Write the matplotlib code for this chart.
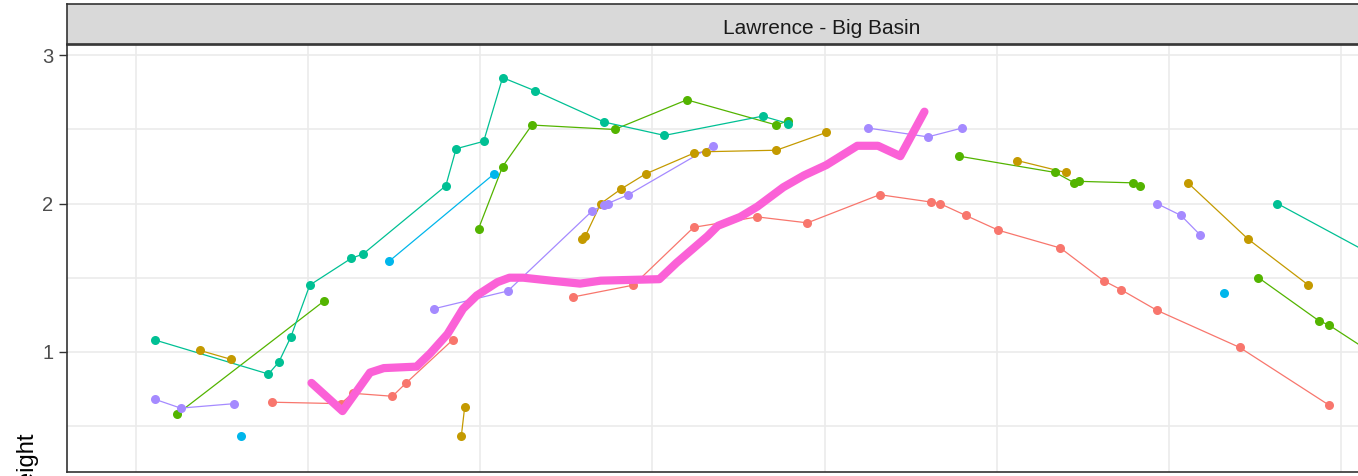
"""Height tracks for the Lawrence - Big Basin site: one coloured track per tree plus the site trend line."""

import matplotlib

matplotlib.use("Agg")  # no display needed
import matplotlib.pyplot as plt
from matplotlib.ticker import MultipleLocator

# ggplot default hue palette
SALMON = "#F8766D"
GOLD = "#C49A00"
GREEN = "#53B400"
TEAL = "#00C094"
BLUE = "#00B6EB"
PURPLE = "#A58AFF"
PINK = "#FB61D7"

FACET_LABEL = "Lawrence - Big Basin"
Y_LABEL = "Height"
Y_TICKS = [1, 2, 3]

# each colour holds one or more separate tracks (x list, y list)
salmon_x = [[0.79, 1.19, 1.26, 1.49, 1.57, 1.84],
            [2.54, 2.89, 3.24, 3.61, 3.90, 4.32, 4.62, 4.67, 4.82, 5.01,
             5.37, 5.62, 5.72, 5.93, 6.41, 6.93]]
salmon_y = [[0.66, 0.65, 0.72, 0.70, 0.79, 1.08],
            [1.37, 1.45, 1.84, 1.91, 1.87, 2.06, 2.01, 2.00, 1.92, 1.82,
             1.70, 1.48, 1.42, 1.28, 1.03, 0.64]]

gold_x = [[0.37, 0.55],
          [1.89, 1.91],
          [2.59, 2.61, 2.70, 2.82, 2.96, 3.24, 3.31, 3.72, 4.01],
          [5.12, 5.40],
          [6.11, 6.46, 6.81]]
gold_y = [[1.01, 0.95],
          [0.43, 0.63],
          [1.76, 1.78, 2.00, 2.10, 2.20, 2.34, 2.35, 2.36, 2.48],
          [2.29, 2.21],
          [2.14, 1.76, 1.45]]

green_x = [[0.24, 1.09],
           [1.99, 2.13, 2.30, 2.78, 3.20, 3.72, 3.79],
           [4.78, 5.34, 5.45, 5.48, 5.79, 5.83],
           [6.52, 6.87, 6.93, 7.30]]
green_y = [[0.58, 1.34],
           [1.83, 2.25, 2.53, 2.50, 2.70, 2.53, 2.56],
           [2.32, 2.21, 2.14, 2.15, 2.14, 2.12],
           [1.50, 1.21, 1.18, 0.90]]

teal_x = [[0.11, 0.77, 0.83, 0.90, 1.01, 1.25, 1.32, 1.80, 1.86, 2.02,
           2.13, 2.32, 2.72, 3.07, 3.64, 3.79],
          [6.63, 7.30]]
teal_y = [[1.08, 0.85, 0.93, 1.10, 1.45, 1.63, 1.66, 2.12, 2.37, 2.42,
           2.85, 2.76, 2.55, 2.46, 2.59, 2.54],
          [2.00, 1.58]]

blue_x = [[0.61], [1.47, 2.08], [6.32]]
blue_y = [[0.43], [1.61, 2.20], [1.40]]

purple_x = [[0.11, 0.26, 0.57],
            [1.73, 2.16, 2.65, 2.72, 2.74, 2.86, 3.35],
            [4.25, 4.60, 4.80],
            [5.93, 6.07, 6.18]]
purple_y = [[0.68, 0.62, 0.65],
            [1.29, 1.41, 1.95, 1.99, 2.00, 2.06, 2.39],
            [2.51, 2.45, 2.51],
            [2.00, 1.92, 1.79]]

# site trend (thick line, no points)
trend_x = [1.02, 1.20, 1.36, 1.44, 1.63, 1.71, 1.81, 1.90, 1.98, 2.10,
           2.17, 2.25, 2.41, 2.58, 2.70, 3.04, 3.14, 3.22, 3.32, 3.38,
           3.51, 3.61, 3.76, 3.88, 4.01, 4.19, 4.31, 4.44, 4.58]
trend_y = [0.79, 0.60, 0.86, 0.89, 0.90, 0.99, 1.12, 1.29, 1.38, 1.47,
           1.50, 1.50, 1.48, 1.46, 1.48, 1.49, 1.60, 1.68, 1.78, 1.85,
           1.91, 1.98, 2.11, 2.19, 2.26, 2.39, 2.39, 2.32, 2.62]

TRACKS = [
    (salmon_x, salmon_y, SALMON),
    (gold_x, gold_y, GOLD),
    (green_x, green_y, GREEN),
    (teal_x, teal_y, TEAL),
    (blue_x, blue_y, BLUE),
    (purple_x, purple_y, PURPLE),
]

W_PX, H_PX = 1358, 476
PANEL_LEFT, PANEL_RIGHT = 67, 1577  # the panel runs past the right edge of the figure
PANEL_TOP, PANEL_BOTTOM = 45, 472
STRIP_TOP = 4

plt.rcParams["font.family"] = ["Liberation Sans", "DejaVu Sans"]

fig = plt.figure(figsize=(W_PX / 100, H_PX / 100), dpi=100)
fig.patch.set_facecolor("white")

ax_w = (PANEL_RIGHT - PANEL_LEFT) / W_PX
ax = fig.add_axes([PANEL_LEFT / W_PX, (H_PX - PANEL_BOTTOM) / H_PX,
                   ax_w, (PANEL_BOTTOM - PANEL_TOP) / H_PX])
strip = fig.add_axes([PANEL_LEFT / W_PX, (H_PX - PANEL_TOP + 1) / H_PX,
                      ax_w, (PANEL_TOP - 1 - STRIP_TOP) / H_PX])

# lines first, then all points on top, like geom_line + geom_point
for xs, ys, color in TRACKS:
    for tx, ty in zip(xs, ys):
        ax.plot(tx, ty, color=color, lw=0.9, zorder=2)
for xs, ys, color in TRACKS:
    for tx, ty in zip(xs, ys):
        ax.plot(tx, ty, ls="none", marker="o", ms=6.5, color=color,
                markeredgewidth=0, zorder=3)

ax.plot(trend_x, trend_y, color=PINK, lw=5.9, solid_joinstyle="round",
        solid_capstyle="round", zorder=4)

ax.set_xlim(-0.40, 8.37)
ax.set_ylim(0.189, 3.07)
ax.xaxis.set_major_locator(MultipleLocator(1))
ax.set_yticks(Y_TICKS)
ax.yaxis.set_minor_locator(MultipleLocator(0.5))
ax.grid(True, which="both", color="#EBEBEB", lw=1.2, zorder=0)
ax.set_axisbelow(True)
ax.tick_params(axis="x", length=0, labelbottom=False)
ax.tick_params(axis="y", which="major", length=5.8, width=1.0, color="#333333",
               labelsize=14.5, labelcolor="#4D4D4D", pad=4)
ax.tick_params(axis="y", which="minor", length=0)
for sp in ax.spines.values():
    sp.set_color("#333333")
    sp.set_linewidth(1.2)
    sp.set_zorder(5)

strip.set_facecolor("#D9D9D9")
strip.set_xticks([])
strip.set_yticks([])
for sp in strip.spines.values():
    sp.set_color("#333333")
    sp.set_linewidth(1.2)
strip.text(0.5, 0.25, FACET_LABEL, transform=strip.transAxes, ha="center",
           va="baseline", fontsize=15, color="#1A1A1A")

# axis title sits low on the full-height figure, only its top shows here
fig.text(26.5 / W_PX, (H_PX - 431) / H_PX, Y_LABEL, rotation=90, ha="center",
         va="top", fontsize=17, color="black")

fig.savefig("out.png", dpi=100)
plt.close(fig)
